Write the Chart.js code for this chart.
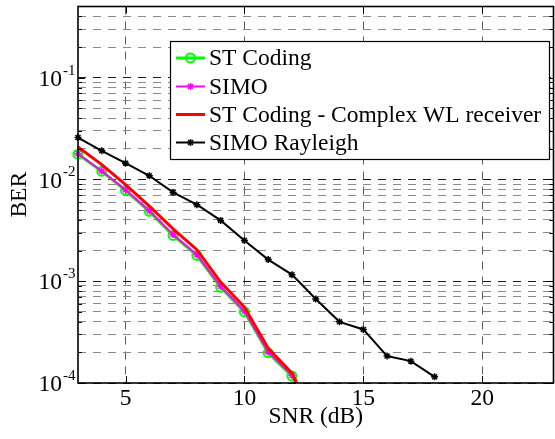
<!DOCTYPE html>
<html>
<head>
<meta charset="utf-8">
<script src="https://cdn.jsdelivr.net/npm/chart.js@4/dist/chart.umd.min.js"></script>
<style>
  html, body { margin: 0; padding: 0; background: #fff; overflow: hidden; }
  canvas { display: block; }
</style>
</head>
<body>
<canvas id="ber" width="560" height="439"></canvas>
<script>
// SNR points (dB)
const snrDb = [3, 4, 5, 6, 7, 8, 9, 10, 11, 12, 13, 14, 15, 16, 17, 18];

// Bit error rate per SNR point
const stCoding     = [0.0177, 0.0120, 0.0078, 0.00486, 0.00282, 0.00179, 0.00087, 0.00050, 0.000198, 0.000117, 0.000040];
const simo         = [0.0179, 0.0121, 0.0079, 0.00492, 0.00287, 0.00182, 0.00089, 0.00051, 0.000202, 0.000119, 0.000041];
const stCodingWl   = [0.0208, 0.0140, 0.0089, 0.00548, 0.00327, 0.00204, 0.00098, 0.000557, 0.000219, 0.000125, 0.000042];
const simoRayleigh = [0.0258, 0.0191, 0.01445, 0.01087, 0.00746, 0.00565, 0.00396, 0.00251, 0.00163, 0.00116,
                      0.00067, 0.000399, 0.000336, 0.000184, 0.000164, 0.000115];

const seriesNames = ['ST Coding', 'SIMO', 'ST Coding - Complex WL receiver', 'SIMO Rayleigh'];

// Axis ticks
const xTicks = [5, 10, 15, 20];
const yTicks = [
  1e-4, 2e-4, 3e-4, 4e-4, 5e-4, 6e-4, 7e-4, 8e-4, 9e-4,
  1e-3, 2e-3, 3e-3, 4e-3, 5e-3, 6e-3, 7e-3, 8e-3, 9e-3,
  1e-2, 2e-2, 3e-2, 4e-2, 5e-2, 6e-2, 7e-2, 8e-2, 9e-2,
  1e-1, 2e-1, 3e-1, 4e-1
];

const FONT = '"Liberation Serif", "Times New Roman", serif';
const FONT_SIZE = 23.5;
const isDecade = v => Math.abs(Math.log10(v) - Math.round(Math.log10(v))) < 1e-9;
const toPoints = vals => vals.map((v, i) => ({ x: snrDb[i], y: v }));

const CLIP = { left: 10, top: 10, right: 10, bottom: 0 };

// Axes box, inward tick marks and power-of-ten y labels
const axesBox = {
  id: 'axesBox',
  afterDraw(chart) {
    const { ctx, chartArea: a, scales: { x, y } } = chart;
    ctx.save();
    ctx.strokeStyle = '#000';
    ctx.lineWidth = 1;
    ctx.beginPath();
    x.ticks.forEach(t => {
      const px = Math.round(x.getPixelForValue(t.value)) + 0.5;
      ctx.moveTo(px, a.bottom); ctx.lineTo(px, a.bottom - 7);
      ctx.moveTo(px, a.top);    ctx.lineTo(px, a.top + 7);
    });
    y.ticks.forEach(t => {
      const py = Math.round(y.getPixelForValue(t.value)) + 0.5;
      const len = isDecade(t.value) ? 7 : 4;
      ctx.moveTo(a.left, py);  ctx.lineTo(a.left + len, py);
      ctx.moveTo(a.right, py); ctx.lineTo(a.right - len, py);
    });
    ctx.stroke();

    ctx.lineWidth = 1.6;
    ctx.strokeRect(a.left, a.top, a.right - a.left, a.bottom - a.top);

    ctx.fillStyle = '#000';
    ctx.textBaseline = 'middle';
    y.ticks.filter(t => isDecade(t.value)).forEach(t => {
      const py = y.getPixelForValue(t.value);
      const exp = Math.round(Math.log10(t.value));
      ctx.font = FONT_SIZE + 'px ' + FONT;
      ctx.textAlign = 'right';
      ctx.fillText('10', 62, py + 2);
      ctx.font = '15px ' + FONT;
      ctx.textAlign = 'left';
      ctx.fillText(String(exp), 63, py - 7);
    });
    ctx.restore();
  }
};

// Boxed legend inside the plot area
const boxLegend = {
  id: 'boxLegend',
  afterDraw(chart) {
    const { ctx } = chart;
    const box = { left: 170.5, top: 41.5, right: 549.5, bottom: 159.5 };
    ctx.save();
    ctx.fillStyle = '#fff';
    ctx.fillRect(box.left, box.top, box.right - box.left, box.bottom - box.top);
    ctx.strokeStyle = '#000';
    ctx.lineWidth = 1.2;
    ctx.strokeRect(box.left, box.top, box.right - box.left, box.bottom - box.top);

    const rowY = [58, 86.5, 114.5, 142.5];
    chart.data.datasets.forEach((ds, i) => {
      const yy = rowY[i];
      ctx.strokeStyle = ds.borderColor;
      ctx.lineWidth = ds.borderWidth;
      ctx.beginPath();
      ctx.moveTo(176, yy); ctx.lineTo(205, yy);
      ctx.stroke();
      const cx = 190.5, r = ds.pointRadius;
      if (r > 0) {
        ctx.strokeStyle = ds.pointBorderColor;
        ctx.lineWidth = ds.pointBorderWidth;
        ctx.beginPath();
        if (ds.pointStyle === 'circle') {
          ctx.arc(cx, yy, r, 0, Math.PI * 2);
        } else {
          for (let k = 0; k < 4; k++) {
            const ang = k * Math.PI / 4;
            ctx.moveTo(cx - r * Math.cos(ang), yy - r * Math.sin(ang));
            ctx.lineTo(cx + r * Math.cos(ang), yy + r * Math.sin(ang));
          }
        }
        ctx.stroke();
      }
      ctx.fillStyle = '#000';
      ctx.font = FONT_SIZE + 'px ' + FONT;
      ctx.textAlign = 'left';
      ctx.textBaseline = 'middle';
      ctx.fillText(ds.label, 209, yy + 1);
    });
    ctx.restore();
  }
};

new Chart(document.getElementById('ber'), {
  type: 'line',
  data: {
    datasets: [
      {
        label: seriesNames[0], data: toPoints(stCoding), order: 4,
        borderColor: '#00ff00', borderWidth: 3,
        pointStyle: 'circle', pointRadius: 4.5, pointBorderWidth: 2,
        pointBorderColor: '#00ff00', pointBackgroundColor: 'rgba(0,0,0,0)', clip: CLIP
      },
      {
        label: seriesNames[1], data: toPoints(simo), order: 3,
        borderColor: '#ff00ff', borderWidth: 2,
        pointStyle: 'star', pointRadius: 3.5, pointBorderWidth: 1.5,
        pointBorderColor: '#ff00ff', pointBackgroundColor: '#ff00ff', clip: CLIP
      },
      {
        label: seriesNames[2], data: toPoints(stCodingWl), order: 2,
        borderColor: '#ff0000', borderWidth: 3,
        pointRadius: 0, pointBorderColor: '#ff0000', pointBorderWidth: 0, clip: CLIP
      },
      {
        label: seriesNames[3], data: toPoints(simoRayleigh), order: 1,
        borderColor: '#000000', borderWidth: 2,
        pointStyle: 'star', pointRadius: 3.5, pointBorderWidth: 1.5,
        pointBorderColor: '#000000', pointBackgroundColor: '#000000', clip: CLIP
      }
    ]
  },
  options: {
    responsive: false,
    animation: false,
    devicePixelRatio: 1,
    layout: { padding: { top: 5, right: 2, left: 0, bottom: 0 } },
    elements: { line: { tension: 0 } },
    plugins: { legend: { display: false }, tooltip: { enabled: false } },
    scales: {
      x: {
        type: 'linear', min: 3, max: 23,
        afterBuildTicks: s => { s.ticks = xTicks.map(v => ({ value: v })); },
        afterFit: s => { s.height = 56; },
        grid: { color: '#5a5a5a', lineWidth: 1, drawTicks: false },
        border: { display: false, dash: [8, 7] },
        ticks: { color: '#000', font: { family: FONT, size: FONT_SIZE }, padding: 2, maxRotation: 0 },
        title: { display: true, text: 'SNR (dB)', color: '#000', font: { family: FONT, size: FONT_SIZE }, padding: { top: 0, bottom: 8 } }
      },
      y: {
        type: 'logarithmic', min: 1e-4, max: 0.5,
        afterBuildTicks: s => { s.ticks = yTicks.map(v => ({ value: v })); },
        afterFit: s => { s.width = 78; },
        grid: {
          color: c => (c.tick && isDecade(c.tick.value)) ? '#1a1a1a' : '#8a8a8a',
          lineWidth: 1, drawTicks: false
        },
        border: { display: false, dash: [8, 7] },
        ticks: { display: false },
        title: { display: true, text: 'BER', color: '#000', font: { family: FONT, size: FONT_SIZE }, padding: { top: 6, bottom: 0 } }
      }
    }
  },
  plugins: [axesBox, boxLegend]
});
</script>
</body>
</html>
